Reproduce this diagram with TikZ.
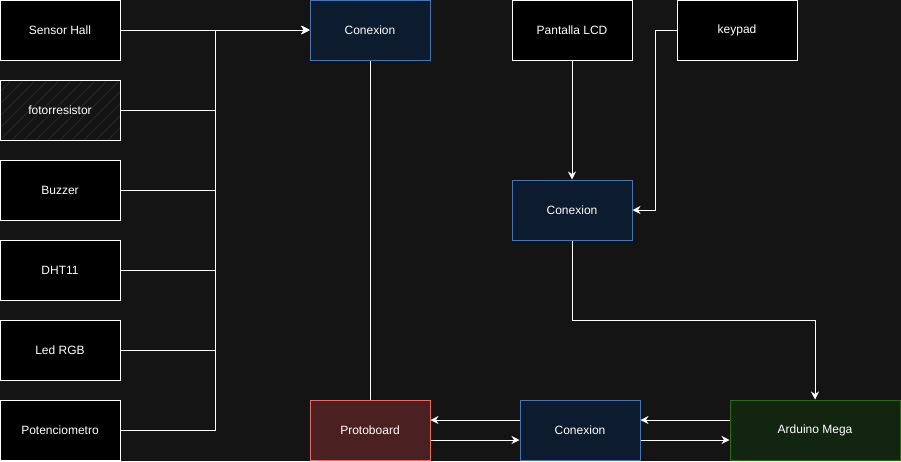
\documentclass[tikz,border=0pt]{standalone}
\usepackage{fontspec}
\setmainfont{Liberation Sans}
\usetikzlibrary{arrows.meta}
\definecolor{bg}{HTML}{141414}
\definecolor{blfill}{HTML}{0D1B2E}
\definecolor{bldraw}{HTML}{4C74AE}
\definecolor{rdfill}{HTML}{4B2020}
\definecolor{rddraw}{HTML}{EA6B66}
\definecolor{grfill}{HTML}{112510}
\definecolor{grdraw}{HTML}{2D6A14}
\definecolor{hatchc}{HTML}{262626}
\tikzset{
  box/.style={draw=white, fill=black, line width=1pt, minimum width=120pt, minimum height=60pt,
    inner sep=0pt, text=white, font=\fontsize{12pt}{14pt}\selectfont},
  bluebox/.style={box, draw=bldraw, fill=blfill},
  redbox/.style={box, draw=rddraw, fill=rdfill},
  greenbox/.style={box, draw=grdraw, fill=grfill},
  hatchbox/.style={box, fill=bg, path picture={
      \foreach \i in {-60,-48,...,120}
        \draw[hatchc, line width=0.8pt] ([xshift=\i pt]path picture bounding box.south west) -- ++(60pt,60pt);}},
  conn/.style={draw=white, line width=1pt},
  arr/.style={conn, -{Stealth[length=8pt,width=8pt,inset=2.5pt]}}
}
\begin{document}
\begin{tikzpicture}[x=1pt,y=-1pt]
\fill[bg] (0,0) rectangle (901,461);
\useasboundingbox (0,0) rectangle (901,461);
% left column
\node[box] (hall) at (60,30) {Sensor Hall};
\node[hatchbox] (foto) at (60,110) {fotorresistor};
\node[box] (buz) at (60,190) {Buzzer};
\node[box] (dht) at (60,270) {DHT11};
\node[box] (led) at (60,350) {Led RGB};
\node[box] (pot) at (60,430) {Potenciometro};
% others
\node[bluebox] (c1) at (370,30) {Conexion};
\node[box] (lcd) at (572,30) {Pantalla LCD};
\node[box] (key) at (737,30) {keypad};
\node[bluebox] (c2) at (572,210) {Conexion};
\node[redbox] (proto) at (370,430) {Protoboard};
\node[bluebox] (c3) at (580,430) {Conexion};
\node[greenbox, minimum width=170pt] (ard) at (815,430) {Arduino Mega};
% connectors
\draw[arr] (hall.east) -- (c1.west);
\foreach \n in {foto,buz,dht,led,pot}
  \draw[arr] (\n.east) -| (215,30) -- (c1.west);
\draw[conn] (c1.south) -- (proto.north);
\draw[arr] (lcd.south) -- (c2.north);
\draw[arr] (key.west) -- (655,30) |- (c2.east);
\draw[arr] (c2.south) -- (572,320) -| (ard.north);
\draw[arr] (c3.west |- 0,420) -- (proto.east |- 0,420);
\draw[arr] (proto.east |- 0,440) -- (c3.west |- 0,440);
\draw[arr] (ard.west |- 0,420) -- (c3.east |- 0,420);
\draw[arr] (c3.east |- 0,440) -- (ard.west |- 0,440);
\end{tikzpicture}
\end{document}
